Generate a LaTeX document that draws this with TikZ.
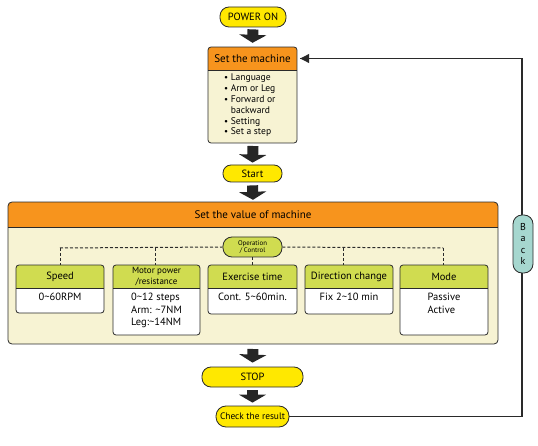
\documentclass[tikz,border=0pt]{standalone}
\usepackage{fontspec}
\setmainfont{PT Sans}
\usetikzlibrary{arrows.meta}
\definecolor{pillyellow}{HTML}{FFE800}
\definecolor{hdrorange}{HTML}{F7941D}
\definecolor{cream}{HTML}{F7F3D3}
\definecolor{hdrgreen}{HTML}{D0DC50}
\definecolor{backteal}{HTML}{A6D7CF}
\definecolor{lined}{HTML}{2A2A2A}
\tikzset{
  boxline/.style={draw=lined, line width=0.8pt},
  pill/.style={draw=lined, line width=0.8pt, fill=pillyellow, rounded corners=9pt, inner sep=0pt, font=\fontsize{10.5}{12}\selectfont},
  blockarrow/.style={line width=11pt, draw=black!85, -{Triangle[width=27pt,length=8pt]}},
  hdrtext/.style={inner sep=0pt, font=\fontsize{11}{13}\selectfont},
  subhdr/.style={inner sep=0pt, font=\fontsize{10.5}{11.5}\selectfont, align=center},
  subbody/.style={inner sep=0pt, font=\fontsize{10.5}{12.5}\selectfont, align=left},
  busline/.style={dashed, dash pattern=on 3pt off 2pt, line width=1pt, draw=lined},
  backline/.style={line width=1.1pt, draw=lined},
}
\newcommand\mysubbox[6]{%
  \begin{scope}
    \clip[rounded corners=3pt] (#2,265) rectangle (#3,#4);
    \fill[white] (#2,265) rectangle (#3,#4);
    \fill[hdrgreen] (#2,265) rectangle (#3,288);
  \end{scope}
  \draw[boxline] (#2,288) -- (#3,288);
  \draw[boxline, rounded corners=3pt] (#2,265) rectangle (#3,#4);
  \node[subhdr, minimum width={#3-#2}, minimum height=23pt] (#1h) at ({(#2+#3)/2},276.5) {#5};
  \node[subbody, anchor=north] (#1b) at ({(#2+#3)/2},293) {#6};
}
\begin{document}
\begin{tikzpicture}[x=1pt, y=-1pt]
\useasboundingbox (0,0) rectangle (538,446);

% POWER ON
\node[pill, minimum width=66pt, minimum height=20pt] (power) at (253,17) {POWER ON};

% Set the machine box
\begin{scope}
  \clip[rounded corners=3pt] (208,47) rectangle (297,143);
  \fill[cream] (208,47) rectangle (297,143);
  \fill[hdrorange] (208,47) rectangle (297,70);
\end{scope}
\draw[boxline] (208,70) -- (297,70);
\draw[boxline, rounded corners=3pt] (208,47) rectangle (297,143);
\node[hdrtext, minimum width=89pt, minimum height=23pt] (setm) at (252.5,58.5) {Set the machine};
\node[inner sep=0pt, anchor=north west, align=left, font=\fontsize{9.6}{10.8}\selectfont] (setlist) at (224,74)
  {{\small\textbullet} Language\\ {\small\textbullet} Arm or Leg\\ {\small\textbullet} Forward or\\ \hphantom{{\small\textbullet} }backward\\ {\small\textbullet} Setting\\ {\small\textbullet} Set a step};
\node[minimum width=89pt, minimum height=73pt, inner sep=0pt] (setbody) at (252.5,106.5) {};

% Start
\node[pill, minimum width=59pt, minimum height=17pt, rounded corners=8pt] (start) at (252.5,173.5) {Start};

% Big box
\begin{scope}
  \clip[rounded corners=4pt] (8,202) rectangle (498,344);
  \fill[cream] (8,202) rectangle (498,344);
  \fill[hdrorange] (8,202) rectangle (498,227);
\end{scope}
\draw[boxline] (8,227) -- (498,227);
\draw[boxline, rounded corners=4pt] (8,202) rectangle (498,344);
\node[hdrtext, minimum width=490pt, minimum height=25pt] (valhdr) at (253,214.5) {Set the value of machine};
\node[minimum width=490pt, minimum height=117pt, inner sep=0pt] (valbody) at (253,285.5) {};

% Operation / Control
\node[draw=lined, line width=0.8pt, fill=hdrgreen, rounded corners=9pt, minimum width=59pt, minimum height=20pt, inner sep=0pt, align=center, font=\fontsize{6.8}{7.5}\selectfont] (opc) at (252.5,247) {Operation\\/ Control};

% Sub boxes
\mysubbox{speed}{16}{104}{313}{Speed}{0\textasciitilde60RPM}
\mysubbox{motor}{113}{200}{335}{\fontsize{9}{9.8}\selectfont Motor power\\\fontsize{9}{9.8}\selectfont /resistance}{0\textasciitilde12 steps\\Arm: \textasciitilde7NM\\Leg:\textasciitilde14NM}
\mysubbox{exer}{208}{297}{314}{Exercise time}{Cont. 5\textasciitilde60min.}
\mysubbox{dir}{305}{393}{314}{Direction change}{Fix 2\textasciitilde10 min}
\mysubbox{mode}{400}{488}{335}{Mode}{Passive\\Active}

% Dashed bus
\coordinate (busL) at (60,248);
\coordinate (busM) at (155,248);
\coordinate (busD) at (343,248);
\coordinate (busR) at (443,248);
\draw[busline] (busL) -- (opc.west);
\draw[busline] (opc.east) -- (busR);
\draw[busline] (busL) -- (busL |- speedh.north);
\draw[busline] (busM) -- (busM |- motorh.north);
\draw[busline] (opc.south) -- (exerh.north);
\draw[busline] (busD) -- (busD |- dirh.north);
\draw[busline] (busR) -- (busR |- modeh.north);

% STOP and Check
\node[pill, minimum width=101pt, minimum height=20pt] (stop) at (252.5,377) {STOP};
\node[pill, minimum width=73pt, minimum height=21pt, rounded corners=10pt, font=\fontsize{9.4}{10.5}\selectfont] (check) at (252.5,416.5) {Check the result};

% Block arrows
\draw[blockarrow] ([yshift=-2pt]power.south) -- ([yshift=4pt]setm.north);
\draw[blockarrow] (253,146) -- ([yshift=2pt]start.north);
\draw[blockarrow] ([yshift=-3pt]start.south) -- ([yshift=2pt]valhdr.north);
\draw[blockarrow] (253,349) -- ([yshift=4pt]stop.north);
\draw[blockarrow] ([yshift=-3pt]stop.south) -- ([yshift=3pt]check.north);

% Back loop
\coordinate (cornerB) at (522,416.5);
\coordinate (cornerT) at (522,58.5);
\draw[backline] (check.east) -- (cornerB) -- (cornerT) -- ([xshift=3pt]setm.east);
\draw[backline, -{Triangle[width=9pt,length=9pt]}] (cornerT) -- ([xshift=3pt]setm.east);
\node[draw=lined, line width=0.8pt, fill=backteal, rounded corners=9pt, minimum width=20pt, minimum height=58pt, inner sep=0pt, align=center, font=\fontsize{10}{11.5}\selectfont] (back) at (523,244) {B\\a\\c\\k};
\end{tikzpicture}
\end{document}
